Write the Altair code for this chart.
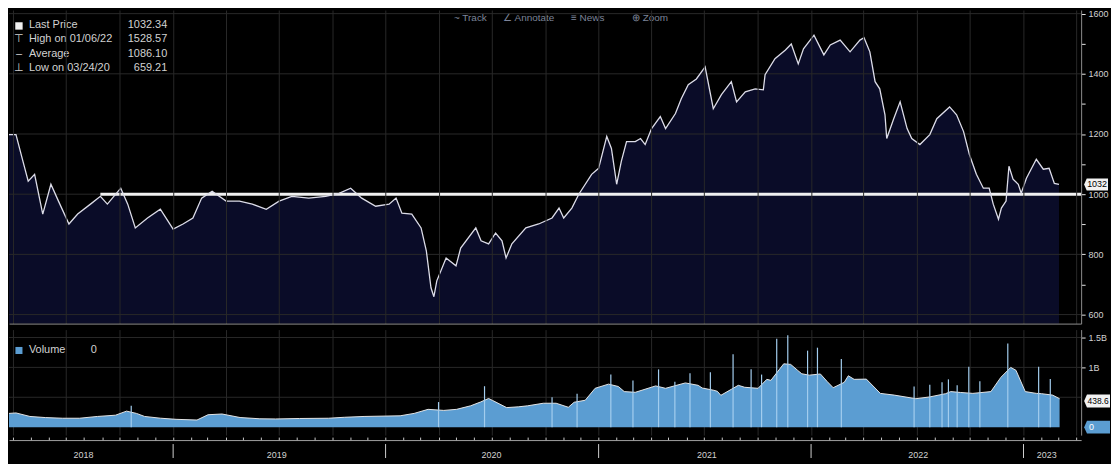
import altair as alt
import pandas as pd

# ---------------- price level ----------------
price_2018 = [("2018-03-25", 1198), ("2018-04-06", 1198), ("2018-04-18", 1109), ("2018-04-27", 1043),
              ("2018-05-08", 1066), ("2018-05-22", 934), ("2018-06-05", 1033), ("2018-06-18", 977),
              ("2018-07-06", 901), ("2018-07-21", 934), ("2018-08-12", 967), ("2018-08-29", 993),
              ("2018-09-10", 967), ("2018-10-03", 1020), ("2018-10-15", 967), ("2018-10-28", 888),
              ("2018-11-18", 921), ("2018-12-10", 950)]
price_2019 = [("2019-01-01", 884), ("2019-01-18", 901), ("2019-02-04", 921), ("2019-02-19", 987),
              ("2019-03-09", 1010), ("2019-04-02", 977), ("2019-04-25", 977), ("2019-05-17", 967),
              ("2019-06-10", 950), ("2019-07-02", 977), ("2019-07-24", 993), ("2019-08-22", 987),
              ("2019-09-20", 993), ("2019-10-13", 1003), ("2019-11-02", 1020), ("2019-11-21", 987),
              ("2019-12-15", 960)]
price_2020 = [("2020-01-07", 967), ("2020-01-19", 987), ("2020-01-29", 937), ("2020-02-15", 934),
              ("2020-03-02", 888), ("2020-03-11", 812), ("2020-03-19", 689), ("2020-03-24", 659.21),
              ("2020-03-29", 712), ("2020-04-14", 788), ("2020-05-01", 762), ("2020-05-09", 821),
              ("2020-06-04", 888), ("2020-06-13", 845), ("2020-06-26", 835), ("2020-07-08", 871),
              ("2020-07-19", 845), ("2020-07-26", 788), ("2020-08-05", 835), ("2020-08-29", 888),
              ("2020-09-20", 901), ("2020-10-13", 921), ("2020-10-25", 954), ("2020-11-02", 921),
              ("2020-11-16", 954), ("2020-11-28", 1000), ("2020-12-20", 1066)]
price_2021 = [("2021-01-01", 1086), ("2021-01-15", 1192), ("2021-01-23", 1152), ("2021-02-01", 1033),
              ("2021-02-09", 1109), ("2021-02-18", 1175), ("2021-03-05", 1175), ("2021-03-14", 1185),
              ("2021-03-22", 1165), ("2021-04-02", 1218), ("2021-04-17", 1258), ("2021-04-26", 1218),
              ("2021-05-13", 1268), ("2021-05-23", 1317), ("2021-06-04", 1364), ("2021-06-18", 1383),
              ("2021-07-03", 1423), ("2021-07-17", 1284), ("2021-07-31", 1331), ("2021-08-17", 1374),
              ("2021-08-26", 1307), ("2021-09-10", 1340), ("2021-09-27", 1350), ("2021-10-11", 1347),
              ("2021-10-14", 1397), ("2021-10-31", 1450), ("2021-11-18", 1479), ("2021-11-28", 1499),
              ("2021-12-10", 1433), ("2021-12-19", 1483)]
price_2022 = [("2022-01-06", 1528.57), ("2022-01-23", 1463), ("2022-02-03", 1496), ("2022-02-20", 1512),
              ("2022-03-09", 1473), ("2022-03-26", 1512), ("2022-04-02", 1520), ("2022-04-12", 1473),
              ("2022-04-21", 1374), ("2022-04-29", 1350), ("2022-05-08", 1264), ("2022-05-11", 1185),
              ("2022-05-23", 1251), ("2022-06-03", 1307), ("2022-06-15", 1218), ("2022-06-23", 1185),
              ("2022-07-07", 1165), ("2022-07-24", 1198), ("2022-08-05", 1251), ("2022-08-27", 1290),
              ("2022-09-08", 1264), ("2022-09-20", 1208), ("2022-09-30", 1132), ("2022-10-12", 1066),
              ("2022-10-24", 1020), ("2022-11-03", 1020), ("2022-11-10", 967), ("2022-11-19", 917),
              ("2022-11-24", 954), ("2022-12-02", 977), ("2022-12-07", 1093), ("2022-12-14", 1050),
              ("2022-12-23", 1033), ("2022-12-28", 1003)]
price_2023 = [("2023-01-06", 1053), ("2023-01-23", 1116), ("2023-02-04", 1083), ("2023-02-14", 1086),
              ("2023-02-23", 1036), ("2023-03-03", 1032.34)]

# ---------------- volume (millions) ----------------
vol_env_2018 = [("2018-03-25", 230), ("2018-04-06", 238), ("2018-04-30", 179), ("2018-05-27", 160),
                ("2018-06-25", 149), ("2018-07-24", 149), ("2018-08-24", 179), ("2018-09-24", 200),
                ("2018-10-13", 268), ("2018-10-30", 230), ("2018-11-13", 179), ("2018-12-10", 150)]
vol_env_2019 = [("2019-01-06", 131), ("2019-02-11", 119), ("2019-03-02", 208), ("2019-03-26", 220),
                ("2019-04-26", 161), ("2019-05-30", 140), ("2019-06-26", 137), ("2019-08-06", 145),
                ("2019-09-25", 149), ("2019-10-22", 165), ("2019-11-25", 179)]
vol_env_2020 = [("2020-01-26", 190), ("2020-02-19", 230), ("2020-03-14", 298), ("2020-04-10", 280),
                ("2020-05-02", 298), ("2020-05-26", 357), ("2020-06-12", 420), ("2020-06-26", 480),
                ("2020-07-03", 446), ("2020-07-27", 327), ("2020-08-16", 340), ("2020-09-01", 357),
                ("2020-09-28", 400), ("2020-10-20", 400), ("2020-11-10", 333), ("2020-11-20", 417),
                ("2020-12-09", 450), ("2020-12-26", 650)]
vol_env_2021 = [("2021-01-18", 720), ("2021-02-04", 680), ("2021-02-14", 595), ("2021-03-05", 583),
                ("2021-04-09", 690), ("2021-04-26", 650), ("2021-05-30", 740), ("2021-06-21", 700),
                ("2021-06-28", 655), ("2021-07-18", 617), ("2021-07-24", 600), ("2021-07-30", 533),
                ("2021-08-17", 633), ("2021-08-29", 700), ("2021-09-09", 667), ("2021-10-02", 650),
                ("2021-10-17", 800), ("2021-10-24", 783), ("2021-11-15", 1060), ("2021-11-27", 1050),
                ("2021-12-09", 950), ("2021-12-16", 893), ("2021-12-29", 870)]
vol_env_2022 = [("2022-01-17", 890), ("2022-01-29", 760), ("2022-02-08", 660), ("2022-02-27", 750),
                ("2022-03-06", 860), ("2022-03-16", 800), ("2022-04-06", 804), ("2022-04-30", 565),
                ("2022-05-24", 536), ("2022-06-30", 476), ("2022-07-24", 506), ("2022-08-20", 560),
                ("2022-08-29", 595), ("2022-09-15", 580), ("2022-10-06", 565), ("2022-11-06", 595),
                ("2022-11-23", 833), ("2022-12-10", 1000), ("2022-12-19", 952)]
vol_env_2023 = [("2023-01-04", 595), ("2023-01-23", 565), ("2023-02-01", 560), ("2023-02-20", 536),
                ("2023-03-04", 476)]
vol_spikes = [("2018-10-21", 357), ("2020-04-01", 420), ("2020-06-19", 685), ("2020-10-13", 500),
              ("2020-11-25", 560), ("2021-01-22", 883), ("2021-03-01", 780), ("2021-04-14", 967),
              ("2021-05-12", 760), ("2021-06-07", 900), ("2021-07-12", 917), ("2021-08-20", 1220),
              ("2021-09-20", 967), ("2021-10-08", 880), ("2021-11-03", 1480), ("2021-11-22", 1540),
              ("2021-12-26", 1280), ("2022-01-12", 1330), ("2022-02-22", 1140), ("2022-06-27", 680),
              ("2022-07-24", 710), ("2022-08-14", 750), ("2022-08-25", 800), ("2022-09-09", 700),
              ("2022-09-29", 1012), ("2022-10-18", 770), ("2022-12-05", 1400), ("2023-01-27", 1012),
              ("2023-02-16", 804)]

# ---------------- axes, labels, annotations ----------------
price_ticks = [600, 700, 800, 900, 1000, 1100, 1200, 1300, 1400, 1500, 1600]
price_grid = [600, 800, 1000, 1200, 1400, 1600]
vol_ticks = [1000, 1500]
vol_grid = [500, 1000, 1500]
year_labels = ["2018", "2019", "2020", "2021", "2022", "2023"]
year_label_dates = ["2018-07-31", "2019-06-28", "2020-07-01", "2021-07-06", "2022-07-04", "2023-02-10"]
year_divider_dates = ["2019-01-01", "2020-01-01", "2021-01-01", "2022-01-01", "2023-01-01"]
avg_line_level = [1000]
avg_line_start = ["2018-08-29"]
avg_line_end = ["2023-04-10"]
legend_symbols = ["", "\u22a4", "\u2013", "\u22a5"]
legend_labels = ["Last Price", "High on 01/06/22", "Average", "Low on 03/24/20"]
legend_values = ["1032.34", "1528.57", "1086.10", "659.21"]
last_price = [1032.34]
last_price_tag = ["1032"]
vol_avg_last = [438.6]
vol_avg_tag = ["438.6"]
vol_last = [0]
vol_last_tag = ["0"]
NB = "\u00a0"
toolbar_text = ["~ Track" + NB * 6 + "\u2220 Annotate" + NB * 6 + "\u2261 News" + NB * 10 + "\u2295 Zoom"]


def pairs_df(groups, name):
    rows = [p for g in groups for p in g]
    return pd.DataFrame({"date": [r[0] for r in rows], name: [r[1] for r in rows]})


price_df = pairs_df([price_2018, price_2019, price_2020, price_2021, price_2022, price_2023], "price")
env_df = pairs_df([vol_env_2018, vol_env_2019, vol_env_2020, vol_env_2021, vol_env_2022, vol_env_2023], "vol")
spike_df = pairs_df([vol_spikes], "vol")

W, PH, VH, BH = 1077, 315, 106, 22
FONT = "Liberation Sans"
TXT = "#d2d2d2"
GRID = "#282828"
AXIS_LINE = "#8c8c8c"
NAVY = "#0a0c28"
BLUE = "#5b9dd2"
TAG = "M-1,0L-0.78,-0.5H1V0.5H-0.78Z"

x_scale = alt.Scale(domain=[alt.DateTime(year=2018, month=3, date=25),
                            alt.DateTime(year=2023, month=4, date=10)])
quarters = alt.TimeIntervalStep(interval="month", step=3)
months = alt.TimeIntervalStep(interval="month", step=1)
price_scale = alt.Scale(domain=[570, 1612], nice=False, zero=False)
vol_scale = alt.Scale(domain=[-133, 1633], nice=False, zero=False)

# one axis definition per channel, repeated in every layer so the layers merge cleanly
px_axis = alt.Axis(title=None, labels=False, ticks=False, domain=True, domainColor=AXIS_LINE,
                   grid=True, gridColor=GRID, tickCount=quarters, zindex=1)
py_axis = alt.Axis(title=None, orient="right", values=price_ticks, format="d",
                   labelExpr="datum.value % 200 === 0 ? datum.label : ''",
                   grid=False, domainColor=AXIS_LINE, tickColor="#e6e6e6", tickSize=4,
                   labelColor=TXT, labelFont=FONT, labelFontSize=9, labelPadding=3)
vx_axis = alt.Axis(title=None, orient="top", labels=False, ticks=False, domain=False,
                   grid=True, gridColor=GRID, tickCount=quarters)
vy_axis = alt.Axis(title=None, orient="right", values=vol_ticks,
                   labelExpr="datum.value >= 1500 ? '1.5B' : '1B'",
                   grid=False, domainColor=AXIS_LINE, tickColor="#e6e6e6", tickSize=4,
                   labelColor=TXT, labelFont=FONT, labelFontSize=9, labelPadding=3)
bx_axis = alt.Axis(title=None, orient="top", labels=False, ticks=True, tickSize=3,
                   tickColor="#c8c8c8", domain=True, domainColor="#a0a0a0", grid=False,
                   tickCount=months)

# ---------------- price panel ----------------
p_area = alt.Chart(price_df).mark_area(color=NAVY, clip=True).encode(
    x=alt.X("date:T", scale=x_scale, axis=px_axis),
    y=alt.Y("price:Q", scale=price_scale, axis=py_axis),
)
p_grid = alt.Chart(pd.DataFrame({"level": price_grid})).mark_rule(color=GRID).encode(
    y=alt.Y("level:Q", scale=price_scale, axis=py_axis))
p_avg = alt.Chart(pd.DataFrame({"start": avg_line_start, "end": avg_line_end, "level": avg_line_level})).mark_rule(
    color="#f0f0f0", strokeWidth=3).encode(
    x=alt.X("start:T", scale=x_scale, axis=px_axis), x2="end:T",
    y=alt.Y("level:Q", scale=price_scale, axis=py_axis))
p_line = alt.Chart(price_df).mark_line(color="#dcdce8", strokeWidth=1.3, clip=True).encode(
    x=alt.X("date:T", scale=x_scale, axis=px_axis),
    y=alt.Y("price:Q", scale=price_scale, axis=py_axis))
tag_df = pd.DataFrame({"level": last_price, "text": last_price_tag})
p_tag = alt.Chart(tag_df).mark_point(shape=TAG, filled=True, color="#f2f2f2", size=576, opacity=1,
                                     strokeWidth=0).encode(
    x=alt.value(W + 15), y=alt.Y("level:Q", scale=price_scale, axis=py_axis))
p_tag_text = alt.Chart(tag_df).mark_text(color="#000000", fontSize=9, font=FONT, align="center",
                                         baseline="middle").encode(
    x=alt.value(W + 16), y=alt.Y("level:Q", scale=price_scale, axis=py_axis), text="text:N")
p_leg_sq = alt.Chart(pd.DataFrame({"k": [0]})).mark_point(shape="square", filled=True, color="#f0f0f0",
                                                          size=55, opacity=1).encode(
    x=alt.value(10), y=alt.value(16))
leg_common = dict(baseline="top", lineBreak="\n", lineHeight=14.5, fontSize=11, font=FONT, color=TXT)
p_leg_sym = alt.Chart(pd.DataFrame({"t": ["\n".join(legend_symbols)]})).mark_text(align="center", **leg_common).encode(
    x=alt.value(10), y=alt.value(9), text="t:N")
p_leg_lab = alt.Chart(pd.DataFrame({"t": ["\n".join(legend_labels)]})).mark_text(align="left", **leg_common).encode(
    x=alt.value(20), y=alt.value(9), text="t:N")
p_leg_val = alt.Chart(pd.DataFrame({"t": ["\n".join(legend_values)]})).mark_text(align="right", **leg_common).encode(
    x=alt.value(159), y=alt.value(9), text="t:N")
p_tool = alt.Chart(pd.DataFrame({"t": toolbar_text})).mark_text(align="left", baseline="middle", fontSize=10,
                                                                 font=FONT, color="#7d8599").encode(
    x=alt.value(447), y=alt.value(8), text="t:N")

price_panel = alt.layer(p_area, p_grid, p_avg, p_line, p_tag, p_tag_text, p_leg_sq, p_leg_sym, p_leg_lab,
                        p_leg_val, p_tool).properties(width=W, height=PH)

# ---------------- volume panel ----------------
v_grid = alt.Chart(pd.DataFrame({"level": vol_grid})).mark_rule(color=GRID).encode(
    y=alt.Y("level:Q", scale=vol_scale, axis=vy_axis))
v_area = alt.Chart(env_df).mark_area(color=BLUE, opacity=1, clip=True,
                                     line=alt.OverlayMarkDef(color="#e4e4e4", strokeWidth=1)).encode(
    x=alt.X("date:T", scale=x_scale, axis=vx_axis),
    y=alt.Y("vol:Q", scale=vol_scale, axis=vy_axis),
)
v_spikes = alt.Chart(spike_df).mark_rule(color="#a3cdee", strokeWidth=1.2).encode(
    x=alt.X("date:T", scale=x_scale, axis=vx_axis),
    y=alt.Y("vol:Q", scale=vol_scale, axis=vy_axis), y2=alt.datum(0))
ma_df = pd.DataFrame({"level": vol_avg_last, "text": vol_avg_tag})
v_tag_ma = alt.Chart(ma_df).mark_point(shape=TAG, filled=True, color="#f2f2f2", size=676, opacity=1,
                                       strokeWidth=0).encode(
    x=alt.value(W + 16), y=alt.Y("level:Q", scale=vol_scale, axis=vy_axis))
v_tag_ma_text = alt.Chart(ma_df).mark_text(color="#000000", fontSize=8.5, font=FONT, align="center",
                                           baseline="middle").encode(
    x=alt.value(W + 17), y=alt.Y("level:Q", scale=vol_scale, axis=vy_axis), text="text:N")
vl_df = pd.DataFrame({"level": vol_last, "text": vol_last_tag})
v_tag_v = alt.Chart(vl_df).mark_point(shape=TAG, filled=True, color=BLUE, size=676, opacity=1,
                                      strokeWidth=0).encode(
    x=alt.value(W + 16), y=alt.Y("level:Q", scale=vol_scale, axis=vy_axis))
v_tag_v_text = alt.Chart(vl_df).mark_text(color="#ffffff", fontSize=9, font=FONT, align="left",
                                          baseline="middle").encode(
    x=alt.value(W + 8), y=alt.Y("level:Q", scale=vol_scale, axis=vy_axis), text="text:N")
v_leg_sq = alt.Chart(pd.DataFrame({"k": [0]})).mark_point(shape="square", filled=True, color=BLUE,
                                                          size=50, opacity=1).encode(
    x=alt.value(10), y=alt.value(21))
v_leg_lab = alt.Chart(pd.DataFrame({"t": ["Volume"]})).mark_text(align="left", baseline="middle", fontSize=11,
                                                                  font=FONT, color=TXT).encode(
    x=alt.value(20), y=alt.value(21), text="t:N")
v_leg_val = alt.Chart(pd.DataFrame({"t": vol_last_tag})).mark_text(align="left", baseline="middle", fontSize=11,
                                                                    font=FONT, color=TXT).encode(
    x=alt.value(82), y=alt.value(21), text="t:N")

volume_panel = alt.layer(v_grid, v_area, v_spikes, v_tag_ma, v_tag_ma_text, v_tag_v, v_tag_v_text,
                         v_leg_sq, v_leg_lab, v_leg_val).properties(width=W, height=VH)

# ---------------- time band ----------------
b_div = alt.Chart(pd.DataFrame({"date": year_divider_dates})).mark_rule(color="#d0d0d0", strokeWidth=1).encode(
    x=alt.X("date:T", scale=x_scale, axis=bx_axis),
    y=alt.value(4), y2=alt.value(18))
b_lab = alt.Chart(pd.DataFrame({"date": year_label_dates, "year": year_labels})).mark_text(
    color=TXT, fontSize=9, font=FONT, baseline="middle").encode(
    x=alt.X("date:T", scale=x_scale, axis=bx_axis), y=alt.value(15), text="year:N")
band = alt.layer(b_div, b_lab).properties(width=W, height=BH)

chart = alt.vconcat(
    price_panel,
    alt.vconcat(volume_panel, band, spacing=0),
    spacing=4,
).properties(background="#000000", padding=0).configure_view(stroke="transparent")

chart.save("out.html", embed_options={"renderer": "svg", "actions": False})
